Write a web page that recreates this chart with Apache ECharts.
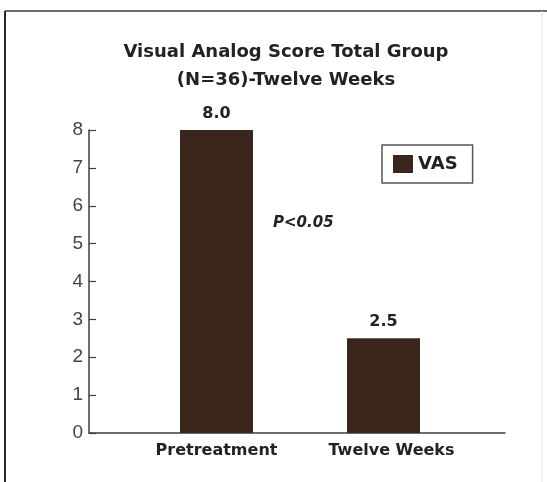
<!DOCTYPE html>
<html>
<head>
<meta charset="utf-8">
<script src="https://cdn.jsdelivr.net/npm/echarts@6/dist/echarts.min.js"></script>
<style>
html,body{margin:0;padding:0;background:#fff;}
#chart{width:547px;height:482px;}
</style>
</head>
<body>
<div id="chart"></div>
<script>
const categories = ['Pretreatment', 'Twelve Weeks'];
const seriesName = 'VAS';
const vasValues = [8.0, 2.5];
const yTicks = [0, 1, 2, 3, 4, 5, 6, 7, 8];
const titleLines = ['Visual Analog Score Total Group', '(N=36)-Twelve Weeks'];
const annotation = 'P<0.05';

const chart = echarts.init(document.getElementById('chart'), null, {renderer: 'canvas'});
const barColor = '#3b261b';
const axisColor = '#3e3e3e';

chart.setOption({
  backgroundColor: '#ffffff',
  animation: false,
  title: {
    text: titleLines.join('\n'),
    left: 281,
    textAlign: 'center',
    top: 33,
    textStyle: {
      fontFamily: 'DejaVu Sans',
      fontWeight: 'bold',
      fontSize: 18,
      lineHeight: 28,
      color: '#222'
    }
  },
  legend: {
    data: [seriesName],
    left: 382,
    top: 145,
    orient: 'horizontal',
    icon: 'rect',
    itemWidth: 20,
    itemHeight: 18,
    itemGap: 0,
    padding: [10, 15, 10, 11],
    borderColor: '#555',
    borderWidth: 1.5,
    borderRadius: 0,
    textStyle: {
      fontFamily: 'DejaVu Sans',
      fontWeight: 'bold',
      fontSize: 18,
      color: '#222'
    },
    itemStyle: {color: barColor}
  },
  grid: [
    {left: 89, right: 42, top: 130, bottom: 49, containLabel: false},
    {left: 133, right: 80, top: 130, bottom: 49, containLabel: false}
  ],
  xAxis: [
    {
      gridIndex: 0,
      type: 'category',
      data: categories,
      axisLine: {show: true, lineStyle: {color: axisColor, width: 1.5}},
      axisTick: {show: false},
      axisLabel: {show: false}
    },
    {
      gridIndex: 1,
      type: 'category',
      data: categories.map((c, i) => i === 1 ? {value: c, textStyle: {padding: [0, 0, 0, 16]}} : c),
      axisLine: {show: false},
      axisTick: {show: false},
      axisLabel: {
        show: true,
        margin: 10,
        fontFamily: 'DejaVu Sans',
        fontWeight: 'bold',
        fontSize: 16,
        color: '#222'
      }
    }
  ],
  yAxis: [
    {
      gridIndex: 0,
      type: 'value',
      min: yTicks[0],
      max: yTicks[yTicks.length - 1],
      interval: 1,
      splitLine: {show: false},
      axisLine: {show: true, lineStyle: {color: axisColor, width: 1.5}},
      axisTick: {show: true, inside: true, length: 7, lineStyle: {color: axisColor, width: 1.2}},
      axisLabel: {
        margin: 6,
        fontFamily: 'Liberation Sans',
        fontSize: 19,
        color: '#444'
      }
    },
    {
      gridIndex: 1,
      type: 'value',
      min: yTicks[0],
      max: yTicks[yTicks.length - 1],
      interval: 1,
      show: false,
      splitLine: {show: false}
    }
  ],
  series: [
    {
      name: seriesName,
      type: 'bar',
      xAxisIndex: 1,
      yAxisIndex: 1,
      data: vasValues,
      barWidth: 73,
      itemStyle: {color: barColor},
      label: {
        show: true,
        position: 'top',
        distance: 8,
        formatter: p => p.value.toFixed(1),
        fontFamily: 'DejaVu Sans',
        fontWeight: 'bold',
        fontSize: 16,
        color: '#222'
      }
    }
  ],
  graphic: [
    {
      type: 'text',
      left: 273,
      top: 216,
      style: {
        text: annotation,
        font: 'italic bold 15px "DejaVu Sans"',
        fill: '#222'
      }
    },
    {
      type: 'line',
      shape: {x1: 5, y1: 11, x2: 5, y2: 482},
      style: {stroke: '#2a2a2a', lineWidth: 2}
    },
    {
      type: 'line',
      shape: {x1: 5, y1: 11, x2: 547, y2: 11},
      style: {stroke: '#3a3a3a', lineWidth: 1.5}
    },
    {
      type: 'line',
      shape: {x1: 542, y1: 11, x2: 542, y2: 482},
      style: {stroke: '#e2e2e2', lineWidth: 1}
    }
  ]
});
</script>
</body>
</html>
